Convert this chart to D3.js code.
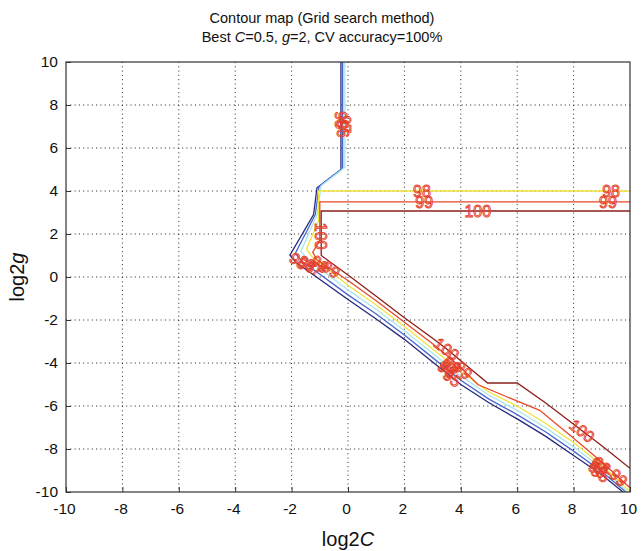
<!DOCTYPE html>
<html>
<head>
<meta charset="utf-8">
<script src="https://cdn.jsdelivr.net/npm/d3@7"></script>
<style>
  html, body { margin: 0; padding: 0; background: #fff; }
  svg { display: block; font-family: "Liberation Sans", Arial, sans-serif; }
</style>
</head>
<body>
<svg id="chart" width="642" height="551"></svg>
<script>
// Axis ticks (log2 C and log2 gamma)
const xTicks = [-10, -8, -6, -4, -2, 0, 2, 4, 6, 8, 10];
const yTicks = [-10, -8, -6, -4, -2, 0, 2, 4, 6, 8, 10];

// Contour levels of cross-validation accuracy (%)
const levels = [100, 99, 98, 97, 96, 95];

// Contour paths, points as [log2C, log2g]
const contour100 = [[10,3.07],[-0.95,3.07],[-0.95,1.0],[0,0.09],[1,-0.9],[2,-1.9],[3,-2.85],[3.5,-3.35],[4.95,-4.93],[6.0,-4.93],[7,-5.85],[8,-6.85],[9,-7.85],[10,-8.9]];
const contour99 = [[10,3.49],[-1.0,3.49],[-1.0,1.7],[-1.25,1.15],[-1.1,0.8],[0,-0.16],[1,-1.1],[2,-2.1],[3,-3.1],[4,-4.2],[4.6,-5.0],[5.5,-5.5],[6.8,-6.2],[8,-7.5],[9,-8.6],[10,-9.8]];
const contour98 = [[10,4.0],[-1.05,4.0],[-1.05,2.6],[-1.47,1.3],[-1.28,0.95],[0,-0.38],[1,-1.3],[2,-2.3],[3,-3.35],[4,-4.4],[5,-5.35],[6,-6.0],[7,-6.8],[8,-7.7],[9,-8.75],[10,-9.98]];
const contour97 = [[-0.11,10],[-0.11,5.1],[-0.95,4.25],[-1.1,2.9],[-1.67,1.2],[-1.45,0.85],[0,-0.6],[1,-1.5],[2,-2.5],[3,-3.55],[4,-4.6],[5,-5.5],[6,-6.2],[7,-7.0],[8,-7.9],[9,-8.9],[9.92,-10]];
const contour96 = [[-0.19,10],[-0.19,5.05],[-1.03,4.2],[-1.16,2.9],[-1.87,1.1],[-1.65,0.75],[0,-0.83],[1,-1.72],[2,-2.7],[3,-3.75],[4,-4.8],[5,-5.68],[6,-6.4],[7,-7.2],[8,-8.1],[9,-9.05],[9.85,-10]];
const contour95 = [[-0.25,10],[-0.25,5.0],[-1.1,4.15],[-1.22,2.9],[-2.06,1.02],[-1.85,0.68],[0,-1.05],[1,-1.95],[2,-2.9],[3,-3.95],[4,-5.0],[5,-5.85],[6,-6.6],[7,-7.4],[8,-8.3],[9,-9.2],[9.75,-10]];

// Contour labels: [level, log2C, log2g]
const contourLabels = [
  [98, 2.62, 4.0], [98, 9.33, 4.0],
  [99, 2.7, 3.49], [99, 9.22, 3.49],
  [100, 4.6, 3.07],
  [95, -0.25, 7.3], [96, -0.19, 6.9], [97, -0.11, 7.1],
  [100, -0.95, 1.9],
  [95, -1.75, 0.75], [96, -1.45, 0.6], [97, -1.2, 0.45], [98, -1.0, 0.6], [99, -0.6, 0.35],
  [100, 3.5, -3.35], [99, 4.1, -4.33], [98, 3.7, -4.08], [97, 3.6, -4.2], [96, 3.5, -4.3], [95, 3.7, -4.7],
  [100, 8.3, -7.15], [99, 9.6, -9.32], [98, 9.0, -8.75], [97, 8.9, -8.8], [96, 8.85, -8.95], [95, 8.95, -9.15]
];

const contourData = {100: contour100, 99: contour99, 98: contour98, 97: contour97, 96: contour96, 95: contour95};
const levelColor = d3.scaleOrdinal()
  .domain(levels)
  .range(["#8c1f1c", "#e8472b", "#f1e23c", "#a8e6ee", "#4a68cf", "#27287a"]);

const svg = d3.select("#chart");
const margin = {left: 66, right: 12, top: 62, bottom: 59};
const W = 642, H = 551;

const x = d3.scaleLinear().domain([-10, 10]).range([margin.left, W - margin.right]);
const y = d3.scaleLinear().domain([-10, 10]).range([H - margin.bottom, margin.top]);

svg.append("defs").append("clipPath").attr("id", "plotClip")
  .append("rect")
  .attr("x", x(-10)).attr("y", y(10))
  .attr("width", x(10) - x(-10)).attr("height", y(-10) - y(10));

// Dotted grid
const grid = svg.append("g").attr("class", "grid");
grid.selectAll("line.v").data(xTicks.slice(1, -1)).join("line")
  .attr("x1", d => x(d)).attr("x2", d => x(d))
  .attr("y1", y(10)).attr("y2", y(-10))
  .attr("stroke", "#222").attr("stroke-width", 1)
  .attr("stroke-dasharray", "1,3.3");
grid.selectAll("line.h").data(yTicks.slice(1, -1)).join("line")
  .attr("y1", d => y(d)).attr("y2", d => y(d))
  .attr("x1", x(-10)).attr("x2", x(10))
  .attr("stroke", "#222").attr("stroke-width", 1)
  .attr("stroke-dasharray", "1,3.3");

// Contour lines
const line = d3.line().x(d => x(d[0])).y(d => y(d[1]));
const contours = svg.append("g").attr("clip-path", "url(#plotClip)");
levels.slice().reverse().forEach(lv => {
  contours.append("path")
    .datum(contourData[lv])
    .attr("d", line)
    .attr("fill", "none")
    .attr("stroke", levelColor(lv))
    .attr("stroke-width", 1.3);
});

// Label angle follows the local direction of its contour
function labelAngle(lv, lx, ly) {
  const pts = contourData[lv].map(p => [x(p[0]), y(p[1])]);
  const px = x(lx), py = y(ly);
  let best = Infinity, ang = 0;
  for (let i = 0; i < pts.length - 1; i++) {
    const [ax, ay] = pts[i], [bx, by] = pts[i + 1];
    const dx = bx - ax, dy = by - ay;
    const len2 = dx * dx + dy * dy || 1;
    let t = ((px - ax) * dx + (py - ay) * dy) / len2;
    t = Math.max(0, Math.min(1, t));
    const cx = ax + t * dx, cy = ay + t * dy;
    const dist = (px - cx) ** 2 + (py - cy) ** 2;
    if (dist < best) { best = dist; ang = Math.atan2(dy, dx) * 180 / Math.PI; }
  }
  if (ang > 90) ang -= 180;
  if (ang <= -90) ang += 180;
  return ang;
}

// Hollow red contour labels
contours.selectAll("text.clabel").data(contourLabels).join("text")
  .attr("class", "clabel")
  .attr("transform", d => `translate(${x(d[1])},${y(d[2])}) rotate(${labelAngle(d[0], d[1], d[2])})`)
  .attr("text-anchor", "middle")
  .attr("dy", "0.36em")
  .attr("font-size", 16)
  .attr("fill", "none")
  .attr("stroke", "#e5402a")
  .attr("stroke-width", 0.9)
  .text(d => d[0]);

// Axes box and inward ticks
const axes = svg.append("g");
axes.append("rect")
  .attr("x", x(-10)).attr("y", y(10))
  .attr("width", x(10) - x(-10)).attr("height", y(-10) - y(10))
  .attr("fill", "none").attr("stroke", "#333").attr("stroke-width", 1.2);

const fmt = d => String(d);
const xAxis = d3.axisBottom(x).tickValues(xTicks).tickFormat(fmt).tickSize(-5).tickPadding(11);
const yAxis = d3.axisLeft(y).tickValues(yTicks).tickFormat(fmt).tickSize(-5).tickPadding(8);

const gx = axes.append("g").attr("transform", `translate(0,${y(-10)})`).call(xAxis);
const gy = axes.append("g").attr("transform", `translate(${x(-10)},0)`).call(yAxis);
[gx, gy].forEach(g => {
  g.select(".domain").remove();
  g.selectAll(".tick line").attr("stroke", "#333");
  g.selectAll(".tick text")
    .attr("font-family", "'Liberation Sans', Arial, sans-serif")
    .attr("font-size", 15.5).attr("fill", "#111");
});
gx.selectAll(".tick text").attr("dx", -2);

// Titles
const title = svg.append("text").attr("x", 322).attr("text-anchor", "middle")
  .attr("font-size", 14.5).attr("fill", "#111");
title.append("tspan").attr("x", 322).attr("y", 23).text("Contour map (Grid search method)");
const t2 = title.append("tspan").attr("x", 322).attr("y", 42);
t2.append("tspan").text("Best ");
t2.append("tspan").attr("font-style", "italic").text("C");
t2.append("tspan").text("=0.5, ");
t2.append("tspan").attr("font-style", "italic").text("g");
t2.append("tspan").text("=2, CV accuracy=100%");

const xl = svg.append("text").attr("x", x(0)).attr("y", 546).attr("text-anchor", "middle")
  .attr("font-size", 20).attr("fill", "#111");
xl.append("tspan").text("log2");
xl.append("tspan").attr("font-style", "italic").text("C");

const yl = svg.append("text")
  .attr("transform", `translate(24,${y(0)}) rotate(-90)`)
  .attr("text-anchor", "middle").attr("font-size", 20).attr("fill", "#111");
yl.append("tspan").text("log2");
yl.append("tspan").attr("font-style", "italic").text("g");
</script>
</body>
</html>
